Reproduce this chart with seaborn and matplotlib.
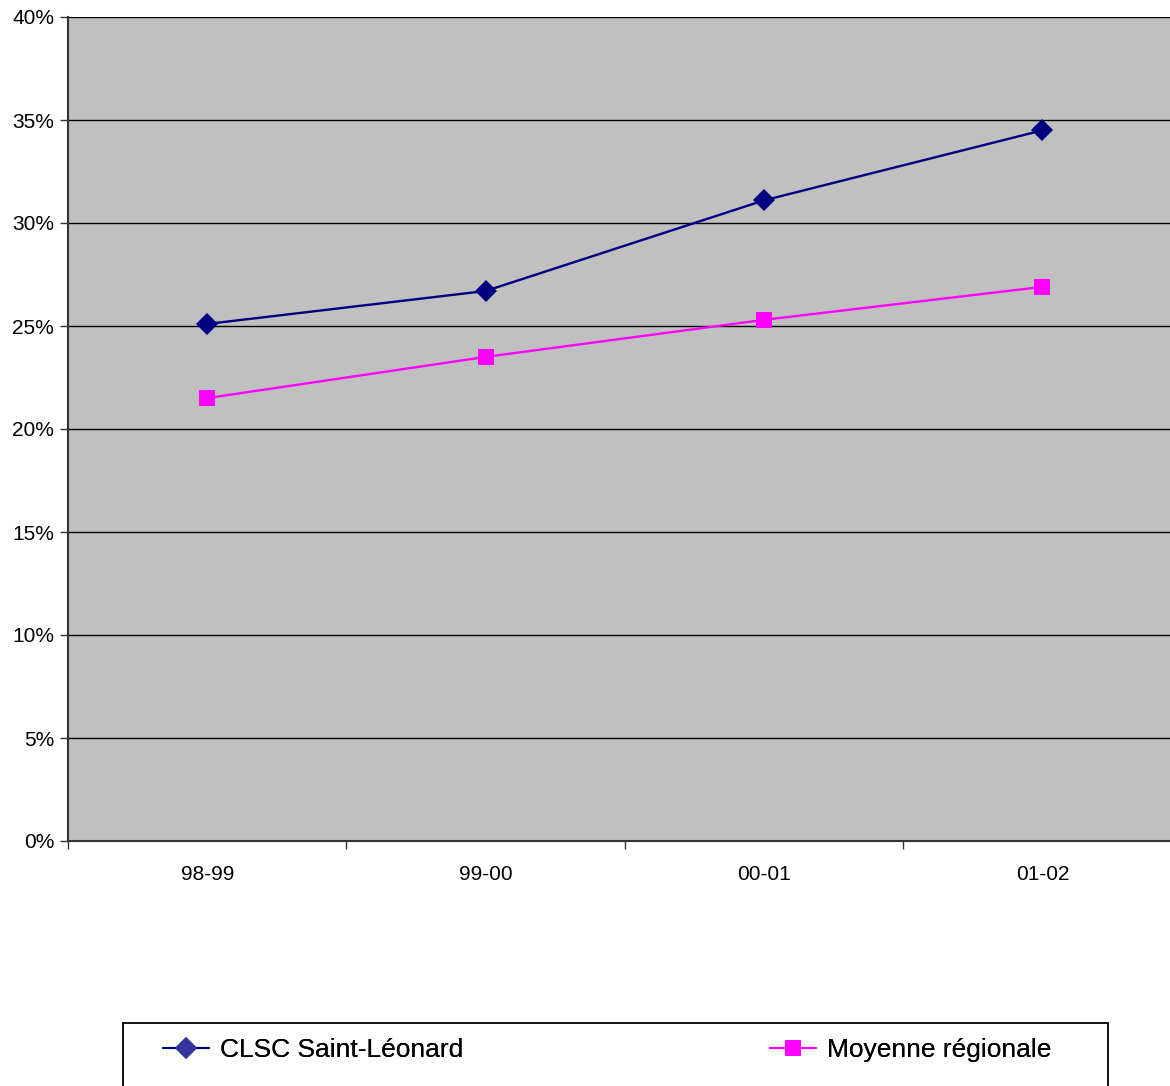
import matplotlib
matplotlib.use("Agg")
import matplotlib.pyplot as plt
import seaborn as sns
import pandas as pd
from matplotlib.ticker import FixedLocator, FuncFormatter
from matplotlib.lines import Line2D
from matplotlib.patches import Rectangle

periods = ["98-99", "99-00", "00-01", "01-02"]
clsc = [25.1, 26.7, 31.1, 34.5]
moyenne = [21.5, 23.5, 25.3, 26.9]
series_names = ["CLSC Saint-Léonard", "Moyenne régionale"]
y_ticks = [0, 5, 10, 15, 20, 25, 30, 35, 40]

sns.set_theme(style="white")
plt.rcParams['font.family'] = ['Liberation Sans', 'DejaVu Sans']
plt.rcParams['text.color'] = 'black'
plt.rcParams['xtick.color'] = 'black'
plt.rcParams['ytick.color'] = 'black'

df = pd.DataFrame({
    "x": [i + 0.5 for i in range(len(periods))] * 2,
    "value": clsc + moyenne,
    "serie": [series_names[0]] * len(periods) + [series_names[1]] * len(periods),
})

W, H = 1170, 1086
fig = plt.figure(figsize=(W/100, H/100), dpi=100)
ax = fig.add_axes([68/W, 1 - 841/H, 1 - 68/W + 0.01, (841 - 17)/H])
ax.set_facecolor("#C0C0C0")

for gy in y_ticks[1:]:
    ax.axhline(gy, color="black", lw=1.0, zorder=1)

sns.lineplot(data=df, x="x", y="value", hue="serie", style="serie",
             palette=["#000080", "#FF00FF"], markers=["D", "s"], dashes=False,
             markersize=11, markeredgewidth=0, linewidth=1.7, ax=ax, legend=False, zorder=3)

ax.set_xlim(0, 4)
ax.set_ylim(0, 40)
ax.xaxis.set_major_locator(FixedLocator([0, 1, 2, 3, 4]))
ax.xaxis.set_major_formatter(FuncFormatter(lambda v, p: ""))
ax.xaxis.set_minor_locator(FixedLocator([i + 0.5 for i in range(len(periods))]))
ax.set_xticklabels(periods, minor=True)
ax.tick_params(axis="x", which="major", direction="out", length=6, width=1, color="#333333", bottom=True)
ax.tick_params(axis="x", which="minor", length=0, labelsize=15, pad=17, bottom=True, labelcolor="black")
ax.set_yticks(y_ticks)
ax.yaxis.set_major_formatter(FuncFormatter(lambda v, p: f"{int(v)}%"))
ax.tick_params(axis="y", direction="out", length=6, width=1, color="#333333", labelsize=15, pad=4, left=True, labelcolor="black")
ax.set_xlabel("")
ax.set_ylabel("")
for s in ["top", "right"]:
    ax.spines[s].set_visible(False)
for s in ["left", "bottom"]:
    ax.spines[s].set_color("#333333")
    ax.spines[s].set_linewidth(1.5)

# legend box
fig.patches.append(Rectangle((123/W, -0.01), (1108 - 123)/W, 0.01 + (1086 - 1023)/H,
                             transform=fig.transFigure, fill=False, edgecolor="black", lw=1.3))

handles = [
    Line2D([], [], color="#000080", marker="D", markersize=11, markerfacecolor="#333399", markeredgewidth=0, lw=1.5),
    Line2D([], [], color="#FF00FF", marker="s", markersize=11, markeredgewidth=0, lw=1.5),
]
ly = 1 - 1050/H
for h, name, lx in zip(handles, series_names, [163/W, 770/W]):
    lg = fig.legend([h], [name], loc="center left", bbox_to_anchor=(lx, ly),
                    frameon=False, fontsize=19, borderaxespad=0, borderpad=0,
                    handlelength=1.75, handletextpad=0.4)
    fig.add_artist(lg)

fig.savefig("out.png", dpi=100)
